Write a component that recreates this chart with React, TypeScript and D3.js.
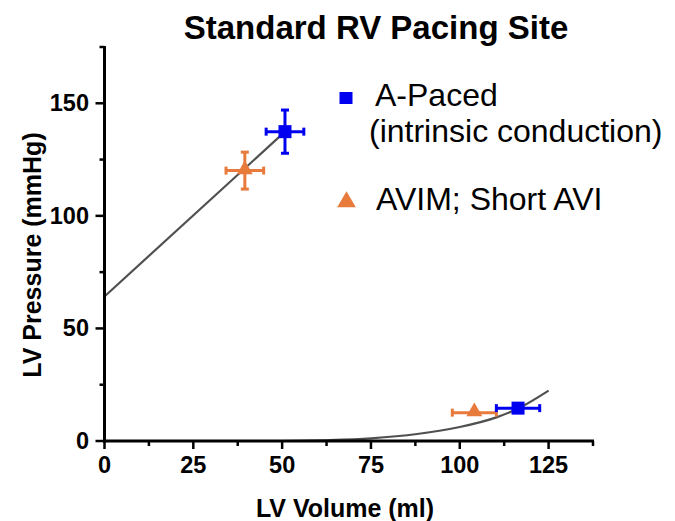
import React from "react";
import * as d3 from "d3";

const W = 675;
const H = 521;

// Data
const seriesNames = ["A-Paced", "AVIM; Short AVI"];
const seriesColors = ["#0000F0", "#E87A3C"];
// [volume, pressure, volErr, pressErr]
const aPaced = [
  [50.8, 137.4, 5.3, 9.6],
  [116.4, 14.6, 6.1, 0],
];
const avim = [
  [39.5, 120.1, 5.3, 8.2],
  [104.1, 12.6, 6.2, 0],
];
const espvr = [
  [0, 64.2],
  [50.8, 137.4],
];
const edpvr = [
  [50, 0],
  [63.5, 0.4],
  [75, 1.2],
  [88, 3.1],
  [100, 6.2],
  [110.5, 10.6],
  [116, 14.1],
  [125, 22.4],
];
const xMajor = [0, 25, 50, 75, 100, 125];
const xMinor = [12.5, 37.5, 62.5, 87.5, 112.5, 137.5];
const yMajor = [0, 50, 100, 150];
const yMinor = [25, 75, 125, 175];

const FONT = "'Liberation Sans', Arial, Helvetica, sans-serif";

export default function App() {
  const x = d3.scaleLinear().domain([0, 137.5]).range([104.5, 593]);
  const y = d3.scaleLinear().domain([0, 175]).range([441, 47]);
  const line = d3
    .line<number[]>()
    .x((d) => x(d[0]))
    .y((d) => y(d[1]));
  const curve = d3
    .line<number[]>()
    .x((d) => x(d[0]))
    .y((d) => y(d[1]))
    .curve(d3.curveMonotoneX);
  const tri = d3.symbol(d3.symbolTriangle, 110)();
  const triLegend = d3.symbol(d3.symbolTriangle, 150)();

  const errBars = (pts: number[][], color: string, key: string) =>
    pts.map((p, i) => {
      const cx = x(p[0]);
      const cy = y(p[1]);
      const x0 = x(p[0] - p[2]);
      const x1 = x(p[0] + p[2]);
      const y0 = y(p[1] - p[3]);
      const y1 = y(p[1] + p[3]);
      return (
        <g key={key + i} stroke={color} strokeWidth={3}>
          <line x1={x0} x2={x1} y1={cy} y2={cy} />
          <line x1={x0} x2={x0} y1={cy - 4} y2={cy + 4} />
          <line x1={x1} x2={x1} y1={cy - 4} y2={cy + 4} />
          {p[3] > 0 && (
            <>
              <line x1={cx} x2={cx} y1={y0} y2={y1} />
              <line x1={cx - 4} x2={cx + 4} y1={y0} y2={y0} />
              <line x1={cx - 4} x2={cx + 4} y1={y1} y2={y1} />
            </>
          )}
        </g>
      );
    });

  return (
    <svg
      width={W}
      height={H}
      style={{ position: "absolute", left: 0, top: 0, background: "#fff" }}
      fontFamily={FONT}
    >
      <rect width={W} height={H} fill="#fff" />
      {/* Title */}
      <text x={376} y={39} textAnchor="middle" fontSize={33} fontWeight="bold" fill="#000">
        Standard RV Pacing Site
      </text>

      {/* fit lines */}
      <path d={line(espvr) || ""} fill="none" stroke="#505050" strokeWidth={2.2} />
      <path d={curve(edpvr) || ""} fill="none" stroke="#505050" strokeWidth={2.2} />

      {/* axes */}
      <g stroke="#000">
        <line x1={x(0)} x2={x(0)} y1={y(175) - 1} y2={y(0) + 1.5} strokeWidth={3} />
        <line x1={x(0) - 1.5} x2={x(137.5) + 1} y1={y(0)} y2={y(0)} strokeWidth={3} />
        {yMajor.map((t) => (
          <line key={"ym" + t} x1={x(0) - 9} x2={x(0)} y1={y(t)} y2={y(t)} strokeWidth={2.5} />
        ))}
        {yMinor.map((t) => (
          <line key={"yn" + t} x1={x(0) - 5} x2={x(0)} y1={y(t)} y2={y(t)} strokeWidth={2.5} />
        ))}
        {xMajor.map((t) => (
          <line key={"xm" + t} x1={x(t)} x2={x(t)} y1={y(0)} y2={y(0) + 8} strokeWidth={2.5} />
        ))}
        {xMinor.map((t) => (
          <line key={"xn" + t} x1={x(t)} x2={x(t)} y1={y(0)} y2={y(0) + 5} strokeWidth={2.5} />
        ))}
      </g>
      {yMajor.map((t) => (
        <text
          key={"yl" + t}
          x={89}
          y={y(t) + 8}
          textAnchor="end"
          fontSize={23.5}
          fontWeight="bold"
          fill="#000"
        >
          {t}
        </text>
      ))}
      {xMajor.map((t) => (
        <text
          key={"xl" + t}
          x={x(t)}
          y={473}
          textAnchor="middle"
          fontSize={23.5}
          fontWeight="bold"
          fill="#000"
        >
          {t}
        </text>
      ))}
      <text x={345} y={517} textAnchor="middle" fontSize={25} fontWeight="bold" fill="#000">
        LV Volume (ml)
      </text>
      <text
        transform="translate(41,255) rotate(-90)"
        textAnchor="middle"
        fontSize={25}
        fontWeight="bold"
        fill="#000"
      >
        LV Pressure (mmHg)
      </text>

      {/* error bars + markers */}
      {errBars(avim, seriesColors[1], "a")}
      {errBars(aPaced, seriesColors[0], "p")}
      {avim.map((p, i) => (
        <path
          key={"t" + i}
          d={tri || ""}
          transform={`translate(${x(p[0])},${y(p[1]) - 1})`}
          fill={seriesColors[1]}
        />
      ))}
      {aPaced.map((p, i) => (
        <rect
          key={"s" + i}
          x={x(p[0]) - 6.5}
          y={y(p[1]) - 6.5}
          width={13}
          height={13}
          fill={seriesColors[0]}
        />
      ))}

      {/* legend */}
      <rect x={339.5} y={92} width={13} height={12} fill={seriesColors[0]} />
      <text x={375} y={106} fontSize={32} fill="#000">
        {seriesNames[0]}
      </text>
      <text x={369} y={142} fontSize={32} fill="#000">
        (intrinsic conduction)
      </text>
      <path d={triLegend || ""} transform="translate(346.5,202)" fill={seriesColors[1]} />
      <text x={376} y={210} fontSize={32} fill="#000">
        {seriesNames[1]}
      </text>
    </svg>
  );
}
